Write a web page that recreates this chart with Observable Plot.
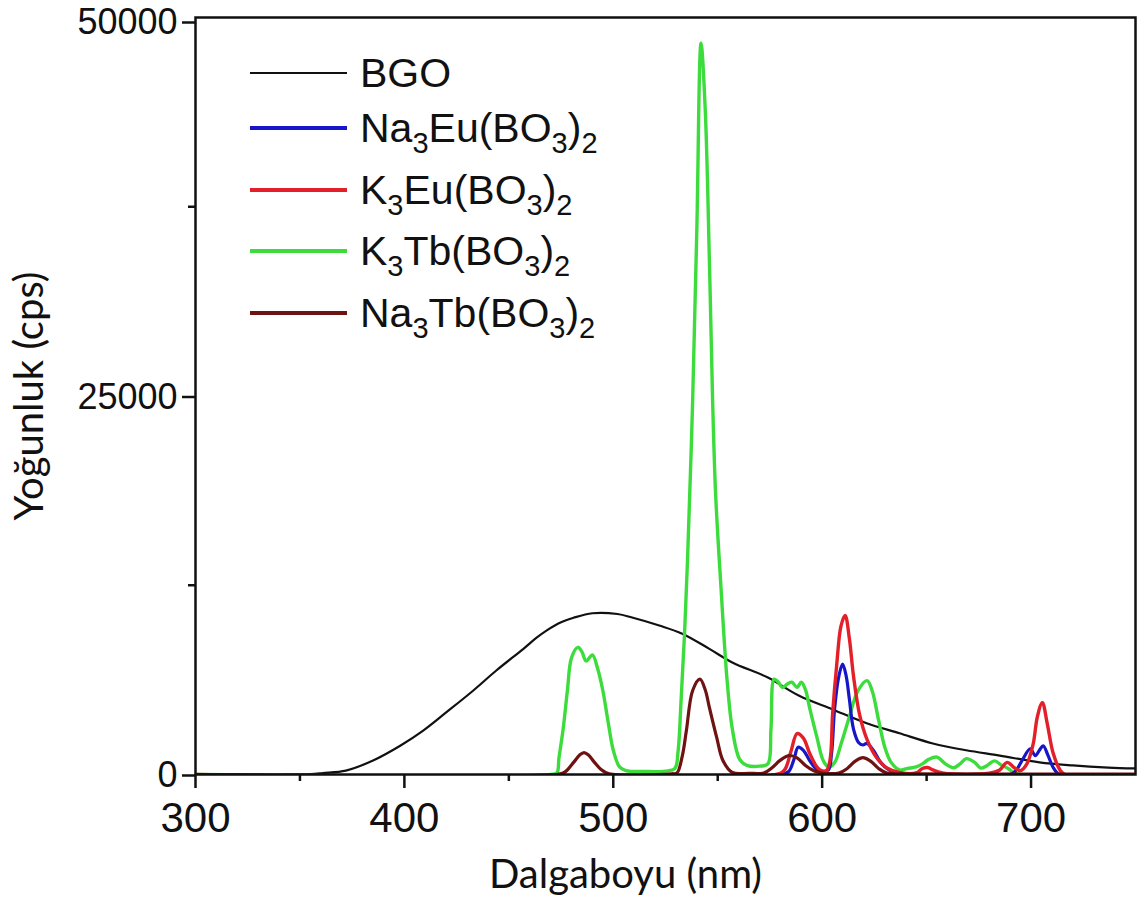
<!DOCTYPE html>
<html>
<head>
<meta charset="utf-8">
<script src="https://cdn.jsdelivr.net/npm/d3@7"></script>
<script src="https://cdn.jsdelivr.net/npm/@observablehq/plot@0.6"></script>
<style>
  body { margin: 0; background: #fff; }
  #wrap { position: relative; width: 1145px; height: 909px; }
  .lg { position: absolute; left: 250px; height: 40px; display: flex; align-items: center;
        font-family: "Liberation Sans", Arial, sans-serif; font-size: 41px; line-height: 40px; color: #111; white-space: nowrap; }
  .lg .sw { width: 97px; margin-right: 13px; }
  .lg sub { font-size: 29px; vertical-align: -11px; line-height: 0; }
</style>
</head>
<body>
<div id="wrap"><div id="chart"></div><div id="legend"></div></div>
<script>
// ---- data (wavelength in nm, intensity in cps) ----
const bgoNm  = [300, 340, 355, 361, 372, 385, 398, 409, 420, 433, 444, 457, 463, 468, 475, 481, 490, 502, 509, 522, 533, 546, 557, 574, 589, 605, 621, 637, 653, 669, 685, 704, 720, 737, 750];
const bgoCps = [0, 0, 30, 100, 260, 925, 1900, 2900, 4100, 5550, 6870, 8300, 9000, 9500, 10050, 10350, 10650, 10600, 10370, 9840, 9300, 8300, 7400, 6400, 5200, 4300, 3400, 2720, 2050, 1600, 1250, 800, 600, 460, 400];

const naEuNm  = [300, 580, 584, 586.5, 588.5, 591, 594, 597, 600, 603, 604.5, 606, 608, 609.8, 611.5, 613, 615, 617.5, 619.5, 621.5, 624.5, 628, 632, 636, 690, 693, 696, 699.6, 702, 704, 705.8, 708, 710.6, 713, 716];
const naEuCps = [0, 0, 200, 1000, 1800, 1600, 920, 400, 200, 300, 1400, 4400, 6500, 7300, 6500, 5000, 3000, 2100, 1950, 2050, 1600, 800, 300, 100, 0, 300, 1000, 1700, 1250, 1600, 1900, 1300, 460, 50, 0];

const kEuNm  = [300, 578, 582, 585, 588, 591, 594, 597, 599, 602, 603.8, 605, 607, 609, 611, 613, 615, 618, 621.5, 626, 631, 637, 645, 648, 650.5, 653, 658, 680, 685, 688.5, 692, 695, 698, 701, 703, 705.4, 707.7, 710.6, 714, 716];
const kEuCps = [0, 0, 300, 1500, 2700, 2400, 1400, 600, 300, 250, 1000, 4000, 7300, 9800, 10500, 9000, 6500, 3900, 2300, 1120, 430, 130, 100, 400, 460, 300, 80, 80, 300, 800, 450, 260, 700, 2000, 3800, 4750, 3400, 1400, 260, 0];

const kTbNm  = [300, 470, 473, 474, 476, 478, 480, 483, 485, 487, 490, 492.5, 495, 497.5, 500, 503, 506, 515, 525, 529.5, 531, 532.5, 534, 535.5, 538, 540, 542, 544, 546, 547.5, 549, 551.5, 554.5, 557, 560.5, 564, 570, 574, 575.5, 577, 579, 581, 583.5, 585.5, 588, 590, 592, 594, 597.5, 600.5, 603, 606, 609, 613, 617, 621.5, 624, 627, 630, 633, 637, 641, 645, 648, 651, 655, 659, 663, 666, 669, 673, 676, 679, 682.5, 686, 689, 692, 695];
const kTbCps = [0, 0, 100, 1100, 3000, 5500, 7700, 8400, 8100, 7500, 7900, 7000, 5550, 3500, 1600, 500, 260, 200, 220, 400, 1500, 5000, 9000, 14000, 24700, 36000, 48300, 44000, 34000, 25000, 18500, 12500, 6200, 3000, 1000, 600, 550, 700, 3000, 6300, 6100, 5750, 6000, 6100, 5750, 6100, 5600, 4400, 2450, 920, 500, 800, 2000, 3800, 5500, 6200, 5500, 3600, 1800, 800, 300, 400, 500, 700, 1000, 1150, 700, 450, 700, 1050, 800, 420, 600, 900, 600, 400, 100, 0];

const naTbNm  = [300, 473, 476, 478, 481, 484, 486, 488, 491, 494, 498, 528, 530.5, 533, 535, 538, 541.5, 544, 546, 549.5, 552.5, 557, 565, 572, 576, 580, 584, 588, 592, 596, 600, 608, 612, 616, 619.5, 623, 627, 631, 640, 750];
const naTbCps = [0, 0, 100, 300, 800, 1300, 1450, 1300, 800, 350, 50, 50, 100, 1200, 2900, 5550, 6300, 5600, 4430, 2450, 920, 130, 80, 100, 450, 950, 1250, 1100, 600, 250, 100, 100, 400, 900, 1120, 900, 400, 100, 50, 30];

const seriesNames  = ["BGO", "Na3Eu(BO3)2", "K3Eu(BO3)2", "K3Tb(BO3)2", "Na3Tb(BO3)2"];
const legendLabels = ["BGO", "Na<sub>3</sub>Eu(BO<sub>3</sub>)<sub>2</sub>", "K<sub>3</sub>Eu(BO<sub>3</sub>)<sub>2</sub>", "K<sub>3</sub>Tb(BO<sub>3</sub>)<sub>2</sub>", "Na<sub>3</sub>Tb(BO<sub>3</sub>)<sub>2</sub>"];
const seriesColors = ["#111111", "#1616c8", "#e3202a", "#3ddc3d", "#6e1212"];
const xMajorTicks = [300, 400, 500, 600, 700];
const xMinorTicks = [350, 450, 550, 650];
const yLowTicks   = [0, 25000];
const yTopTicks   = [50000];
const yMinorTicks = [12500, 37500];

// ---- build table ----
const allNm  = [bgoNm, naEuNm, kEuNm, kTbNm, naTbNm];
const allCps = [bgoCps, naEuCps, kEuCps, kTbCps, naTbCps];
const widths = [2.2, 3.2, 3.4, 3.4, 3.2];
const drawOrder = [0, 3, 1, 2, 4];

const lineMarks = drawOrder.map(k => {
  const rows = allNm[k].map((x, i) => ({x, y: allCps[k][i]}));
  return Plot.line(rows, {x: "x", y: "y", stroke: seriesColors[k], strokeWidth: widths[k], curve: "catmull-rom", clip: true});
});

const yLabelFont = {fontSize: 36, fontFamily: "Liberation Sans, Arial, sans-serif", tickFormat: d => String(d), label: null};

const chart = Plot.plot({
  width: 1145, height: 909,
  marginLeft: 195, marginRight: 10, marginTop: 17, marginBottom: 135,
  x: {domain: [300, 750]},
  y: {domain: [0, 50000]},
  style: {background: "#fff", color: "#111"},
  marks: [
    ...lineMarks,
    Plot.frame({stroke: "#111", strokeWidth: 2.5}),
    Plot.axisX({ticks: xMajorTicks, tickSize: 14, tickPadding: 14, strokeWidth: 2.5, fontSize: 42,
                fontFamily: "Liberation Sans, Arial, sans-serif", label: null}),
    Plot.axisX({ticks: xMinorTicks, tickSize: 7, strokeWidth: 2.5, text: null, label: null}),
    Plot.axisY({ticks: yLowTicks, tickSize: 13, tickPadding: 5, strokeWidth: 2.5, dy: 1, ...yLabelFont}),
    Plot.axisY({ticks: yTopTicks, tickSize: 13, tickPadding: 5, strokeWidth: 2.5, dy: 5, ...yLabelFont}),
    Plot.axisY({ticks: yMinorTicks, tickSize: 7, strokeWidth: 2.5, text: null, label: null}),
    Plot.text(["Dalgaboyu (nm)"], {frameAnchor: "bottom", textAnchor: "middle", dx: -40, dy: 113, fontSize: 40,
                fontFamily: "Lato, sans-serif", fill: "#111"}),
    Plot.text(["Yoğunluk (cps)"], {frameAnchor: "left", textAnchor: "middle", dx: -165, dy: 0, rotate: -90, fontSize: 40,
                fontFamily: "Lato, sans-serif", fill: "#111"})
  ]
});
document.getElementById("chart").appendChild(chart);

// ---- legend ----
const legendCenters = [73, 128, 190, 251, 313];
const lg = document.getElementById("legend");
seriesNames.forEach((name, k) => {
  const row = document.createElement("div");
  row.className = "lg";
  row.style.top = (legendCenters[k] - 20) + "px";
  const sw = document.createElement("div");
  sw.className = "sw";
  sw.style.height = (k === 0 ? 2 : 4) + "px";
  sw.style.background = seriesColors[k];
  const tx = document.createElement("span");
  tx.innerHTML = legendLabels[k];
  row.appendChild(sw); row.appendChild(tx);
  lg.appendChild(row);
});
</script>
</body>
</html>
